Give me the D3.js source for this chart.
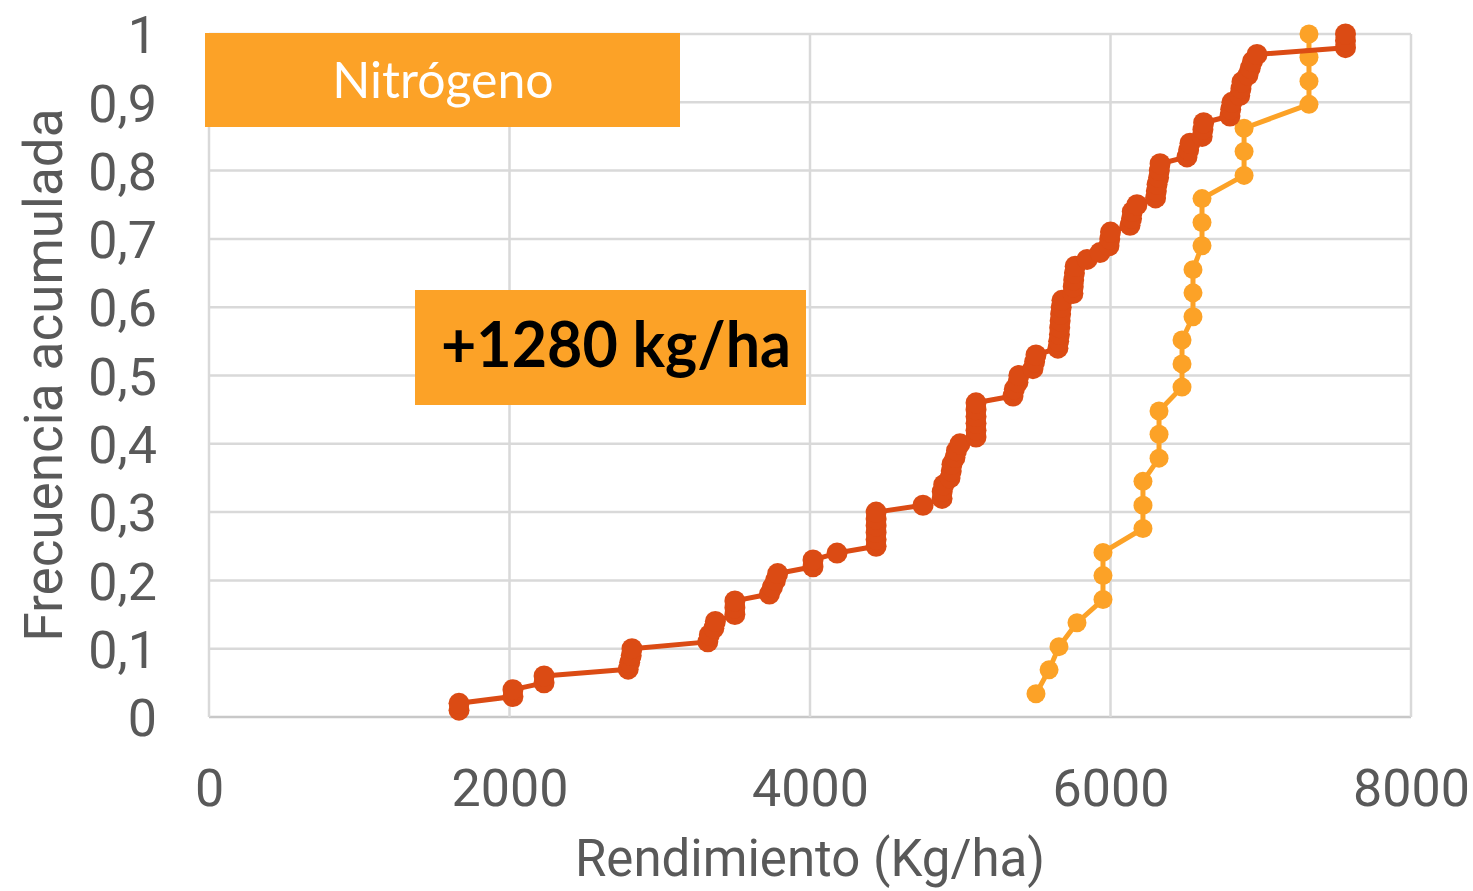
<!DOCTYPE html>
<html>
<head>
<meta charset="utf-8">
<script src="https://cdn.jsdelivr.net/npm/d3@7"></script>
<style>
  html, body { margin: 0; padding: 0; background: #fff; }
  svg { display: block; }
  .tick text { font-family: Roboto, "DejaVu Sans", sans-serif; fill: #595959; }
</style>
</head>
<body>
<svg id="chart" width="1473" height="891"></svg>
<script>
// ---------------------------
// Cumulative frequency of yield - Nitrógeno
// ---------------------------

// series 1 (dark orange): yields, kg/ha
const yieldRed = [
  1664, 1664, 2023, 2023, 2230, 2230, 2790, 2800, 2810, 2815,
  3320, 3330, 3360, 3370, 3500, 3500, 3500, 3730, 3750, 3770,
  3785, 4020, 4020, 4180, 4440, 4440, 4440, 4440, 4440, 4440,
  4752, 4879, 4880, 4890, 4932, 4940, 4945, 4965, 4975, 4998,
  5105, 5105, 5105, 5105, 5105, 5105, 5351, 5360, 5384, 5390,
  5484, 5495, 5504, 5650, 5655, 5660, 5662, 5665, 5668, 5672,
  5677, 5750, 5752, 5755, 5760, 5765, 5844, 5930, 5990, 5995,
  6000, 6130, 6140, 6145, 6176, 6300, 6305, 6310, 6320, 6325,
  6330, 6509, 6520, 6529, 6610, 6615, 6620, 6795, 6800, 6808,
  6860, 6868, 6875, 6915, 6930, 6945, 6975, 7564, 7564, 7564
];
const freqRed = [
  0.01, 0.02, 0.03, 0.04, 0.05, 0.06, 0.07, 0.08, 0.09, 0.10,
  0.11, 0.12, 0.13, 0.14, 0.15, 0.16, 0.17, 0.18, 0.19, 0.20,
  0.21, 0.22, 0.23, 0.24, 0.25, 0.26, 0.27, 0.28, 0.29, 0.30,
  0.31, 0.32, 0.33, 0.34, 0.35, 0.36, 0.37, 0.38, 0.39, 0.40,
  0.41, 0.42, 0.43, 0.44, 0.45, 0.46, 0.47, 0.48, 0.49, 0.50,
  0.51, 0.52, 0.53, 0.54, 0.55, 0.56, 0.57, 0.58, 0.59, 0.60,
  0.61, 0.62, 0.63, 0.64, 0.65, 0.66, 0.67, 0.68, 0.69, 0.70,
  0.71, 0.72, 0.73, 0.74, 0.75, 0.76, 0.77, 0.78, 0.79, 0.80,
  0.81, 0.82, 0.83, 0.84, 0.85, 0.86, 0.87, 0.88, 0.89, 0.90,
  0.91, 0.92, 0.93, 0.94, 0.95, 0.96, 0.97, 0.98, 0.99, 1.00
];

// series 2 (light orange)
const yieldOrange = [
  5504, 5591, 5657, 5777, 5950, 5950, 5950, 6216, 6216, 6216,
  6323, 6323, 6323, 6476, 6476, 6476, 6549, 6549, 6549, 6609,
  6609, 6609, 6889, 6889, 6889, 7321, 7321, 7321, 7321
];
const freqOrange = [
  0.034, 0.069, 0.103, 0.138, 0.172, 0.207, 0.241, 0.276, 0.310, 0.345,
  0.379, 0.414, 0.448, 0.483, 0.517, 0.552, 0.586, 0.621, 0.655, 0.690,
  0.724, 0.759, 0.793, 0.828, 0.862, 0.897, 0.931, 0.966, 1.000
];

const xTicks = [0, 2000, 4000, 6000, 8000];
const yTicks = [0, 0.1, 0.2, 0.3, 0.4, 0.5, 0.6, 0.7, 0.8, 0.9, 1];

const xTitle = "Rendimiento (Kg/ha)";
const yTitle = "Frecuencia acumulada";
const boxTitle = "Nitrógeno";
const boxDiff = "+1280 kg/ha";

const colRed = "#db4b14";
const colOrange = "#fca227";
const colGrid = "#d9d9d9";

const svg = d3.select("#chart");

const x = d3.scaleLinear().domain([0, 8000]).range([209, 1411]);
const y = d3.scaleLinear().domain([0, 1]).range([717, 34]);

// gridlines
const grid = svg.append("g");
grid.selectAll(".hgrid")
  .data(yTicks)
  .enter()
  .append("line")
  .attr("x1", x(0)).attr("x2", x(8000))
  .attr("y1", d => y(d)).attr("y2", d => y(d))
  .attr("stroke", d => d === 0 ? "#c8c8c8" : colGrid)
  .attr("stroke-width", 2.5);
grid.selectAll(".vgrid")
  .data(xTicks)
  .enter()
  .append("line")
  .attr("x1", d => x(d)).attr("x2", d => x(d))
  .attr("y1", y(1)).attr("y2", y(0))
  .attr("stroke", colGrid)
  .attr("stroke-width", 2.5);

// axes (labels only)
const xAxis = svg.append("g")
  .attr("transform", `translate(0,${y(0)})`)
  .call(d3.axisBottom(x).tickValues(xTicks).tickSize(0).tickPadding(52).tickFormat(d3.format("d")));
xAxis.select(".domain").remove();
xAxis.selectAll("text").attr("font-size", 52).attr("dy", "0.71em");

const yAxis = svg.append("g")
  .attr("transform", `translate(${x(0)},0)`)
  .call(d3.axisLeft(y).tickValues(yTicks).tickSize(0).tickPadding(52)
    .tickFormat(d => d === 0 || d === 1 ? String(d) : d3.format(".1f")(d).replace(".", ",")));
yAxis.select(".domain").remove();
yAxis.selectAll("text").attr("font-size", 52).attr("dy", "0.36em");

// axis titles
svg.append("text")
  .attr("x", 810).attr("y", 876)
  .attr("text-anchor", "middle")
  .attr("font-family", "Roboto, sans-serif")
  .attr("font-size", 51)
  .attr("fill", "#595959")
  .text(xTitle);

svg.append("text")
  .attr("transform", "translate(62,375) rotate(-90)")
  .attr("text-anchor", "middle")
  .attr("font-family", "Roboto, sans-serif")
  .attr("font-size", 53)
  .attr("fill", "#595959")
  .text(yTitle);

// series
const line = d3.line().x(d => x(d[0])).y(d => y(d[1]));

function drawSeries(xs, ys, color, r) {
  const pts = xs.map((v, i) => [v, ys[i]]);
  const g = svg.append("g");
  g.append("path")
    .datum(pts)
    .attr("d", line)
    .attr("fill", "none")
    .attr("stroke", color)
    .attr("stroke-width", 5)
    .attr("stroke-linejoin", "round");
  g.selectAll("circle")
    .data(pts)
    .enter()
    .append("circle")
    .attr("cx", d => x(d[0]))
    .attr("cy", d => y(d[1]))
    .attr("r", r)
    .attr("fill", color);
}

drawSeries(yieldOrange, freqOrange, colOrange, 9.5);
drawSeries(yieldRed, freqRed, colRed, 10.5);

// label boxes
svg.append("rect")
  .attr("x", 205).attr("y", 33).attr("width", 475).attr("height", 94)
  .attr("fill", colOrange);
svg.append("text")
  .attr("x", 443).attr("y", 98)
  .attr("text-anchor", "middle")
  .attr("font-family", "Lato, 'Open Sans', sans-serif")
  .attr("font-size", 50)
  .attr("fill", "#fff")
  .text(boxTitle);

svg.append("rect")
  .attr("x", 415).attr("y", 290).attr("width", 391).attr("height", 115)
  .attr("fill", colOrange);
svg.append("text")
  .attr("x", 441).attr("y", 367)
  .attr("font-family", "Lato, 'Open Sans', sans-serif")
  .attr("font-weight", "bold")
  .attr("font-size", 64)
  .attr("fill", "#000")
  .attr("textLength", 350)
  .attr("lengthAdjust", "spacingAndGlyphs")
  .text(boxDiff);
</script>
</body>
</html>
